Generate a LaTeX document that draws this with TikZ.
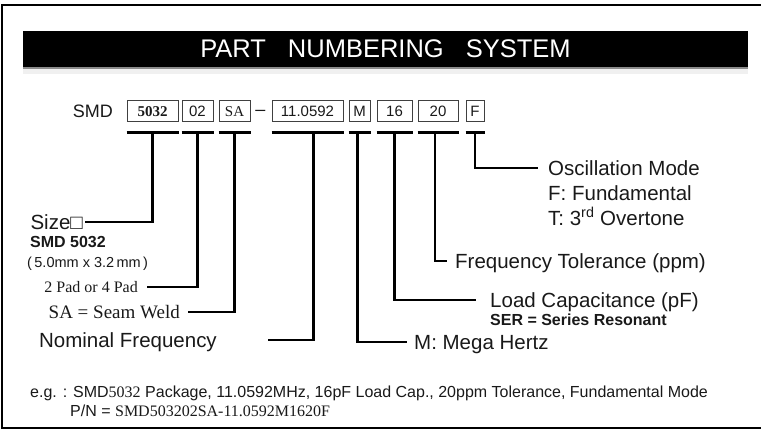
\documentclass[tikz,border=0pt]{standalone}
\usepackage{fontspec}
\setmainfont{Liberation Sans}
\newfontfamily\tnr{Liberation Serif}

\begin{document}
\begin{tikzpicture}[x=1pt,y=1pt]
\tikzstyle{every node}+=[inner sep=0pt, text=black!90]
\tikzstyle{field}=[draw=black!75, line width=1pt, minimum height=21pt, font=\fontsize{15}{15}\selectfont]
\tikzstyle{bar}=[line width=3pt]
\tikzstyle{lead}=[line width=2.5pt]
\tikzstyle{note}=[font=\fontsize{20.5}{21}\selectfont]
\tikzstyle{small}=[font=\fontsize{16}{16}\selectfont\bfseries]
\useasboundingbox (0,0) rectangle (761,-430);
% frame and title bar
\draw [line width=2pt] (765,-5) -- (2,-5) -- (2,-428) -- (765,-428);
\fill [black] (23,-31) rectangle (748,-67);
\fill [black!45] (23,-67) rectangle (748,-69.5);
\fill [black!6] (23,-69.5) rectangle (748,-74);
\node (title) [text=white, font=\fontsize{25.5}{26}\selectfont] at (385.5,-49) {PART\hspace{22pt}NUMBERING\hspace{22pt}SYSTEM};
% part number fields
\node (smd) [anchor=east, font=\fontsize{18}{18}\selectfont] at (113,-111.5) {SMD};
\node (f5032) [field, minimum width=51pt, font=\tnr\fontsize{15}{15}\selectfont\bfseries] at (152.5,-111.5) {5032};
\node (f02) [field, minimum width=31pt] at (197.5,-111.5) {02};
\node (fsa) [field, minimum width=31pt, font=\tnr\fontsize{15}{15}\selectfont] at (234.5,-111.5) {SA};
\node (dash) [anchor=base, font=\fontsize{18}{18}\selectfont] at (260.5,-116) {--};
\node (ffreq) [field, minimum width=71pt] at (307.5,-111.5) {11.0592};
\node (fm) [field, minimum width=21pt] at (359.5,-111.5) {M};
\node (fload) [field, minimum width=35pt] at (394.5,-111.5) {16};
\node (ftol) [field, minimum width=40pt] at (438,-111.5) {20};
\node (fmode) [field, minimum width=18pt] at (475,-111.5) {F};
% bars under the fields
\draw [bar] ([yshift=-10pt]f5032.south west) -- ([yshift=-10pt]f5032.south east);
\draw [bar] ([yshift=-10pt]f02.south west) -- ([yshift=-10pt]f02.south east);
\draw [bar] ([yshift=-10pt]fsa.south west) -- ([yshift=-10pt]fsa.south east);
\draw [bar] ([yshift=-10pt]ffreq.south west) -- ([yshift=-10pt]ffreq.south east);
\draw [bar] ([yshift=-10pt]fm.south west) -- ([yshift=-10pt]fm.south east);
\draw [bar] ([yshift=-10pt]fload.south west) -- ([yshift=-10pt]fload.south east);
\draw [bar] ([yshift=-10pt]ftol.south west) -- ([yshift=-10pt]ftol.south east);
\draw [bar] ([yshift=-10pt]fmode.south west) -- ([yshift=-10pt]fmode.south east);
\coordinate (t5032) at ([yshift=-10pt]f5032.south);
\coordinate (t02) at ([yshift=-10pt]f02.south);
\coordinate (tsa) at ([yshift=-10pt]fsa.south);
\coordinate (tfreq) at ([xshift=6pt,yshift=-10pt]ffreq.south);
\coordinate (tm) at ([xshift=-2pt,yshift=-10pt]fm.south);
\coordinate (tload) at ([yshift=-10pt]fload.south);
\coordinate (ttol) at ([xshift=-3pt,yshift=-10pt]ftol.south);
\coordinate (tmode) at ([yshift=-10pt]fmode.south);
% left labels
\node (size) [note, anchor=base east] at (83,-229.4) {Size□};
\node (pkg) [small, anchor=base west] at (30,-247.8) {SMD 5032};
\node (dims) [font=\fontsize{14.5}{15}\selectfont, anchor=base west] at (27,-267.2) {(\,5.0mm x 3.2\,mm\,)};
\node (pads) [font=\tnr\fontsize{16}{16}\selectfont, anchor=base east] at (138,-292.3) {2 Pad or 4 Pad};
\node (weld) [font=\tnr\fontsize{19}{19}\selectfont, anchor=base east] at (180,-318.3) {SA = Seam Weld};
\node (nominal) [note, anchor=base east] at (217,-347.4) {Nominal Frequency};
\draw [lead] (t5032) |- ([xshift=2pt,yshift=7.4pt]size.base east);
\draw [lead] (t02) |- ([xshift=9pt,yshift=5.3pt]pads.base east);
\draw [lead] (tsa) |- ([xshift=8pt,yshift=6.3pt]weld.base east);
\draw [lead] (tfreq) |- ([xshift=51pt,yshift=7.4pt]nominal.base east);
% right labels
\node (mhz) [note, anchor=base west] at (414,-349.4) {M: Mega Hertz};
\node (loadcap) [note, anchor=base west] at (490,-307.4) {Load Capacitance (pF)};
\node (ser) [small, anchor=base west] at (490,-325.8) {SER = Series Resonant};
\node (tolerance) [note, anchor=base west] at (455,-268.4) {Frequency Tolerance (ppm)};
\node (osc) [note, anchor=base west] at (548,-175.4) {Oscillation Mode};
\node (fund) [note, anchor=base west] at (548,-200.4) {F: Fundamental};
\node (third) [note, anchor=base west] at (548,-225.4) {T: 3\textsuperscript{rd} Overtone};
\draw [lead] (tm) |- ([xshift=-7pt,yshift=7.4pt]mhz.base west);
\draw [lead] (tload) |- ([xshift=-14pt,yshift=7.4pt]loadcap.base west);
\draw [lead] (ttol) |- ([xshift=-8pt,yshift=7.4pt]tolerance.base west);
\draw [lead] (tmode) |- ([xshift=-10pt,yshift=7.4pt]osc.base west);
% example
\node (example) [font=\fontsize{16}{16}\selectfont, anchor=base west] at (30,-397.8) {e.g. : SMD{\tnr 5032} Package, 11.0592MHz, 16pF Load Cap., 20ppm Tolerance, Fundamental Mode};
\node (pn) [font=\fontsize{16}{16}\selectfont, anchor=base west] at (70,-416.8) {P/N = {\tnr SMD503202SA-11.0592M1620F}};
\end{tikzpicture}
\end{document}
